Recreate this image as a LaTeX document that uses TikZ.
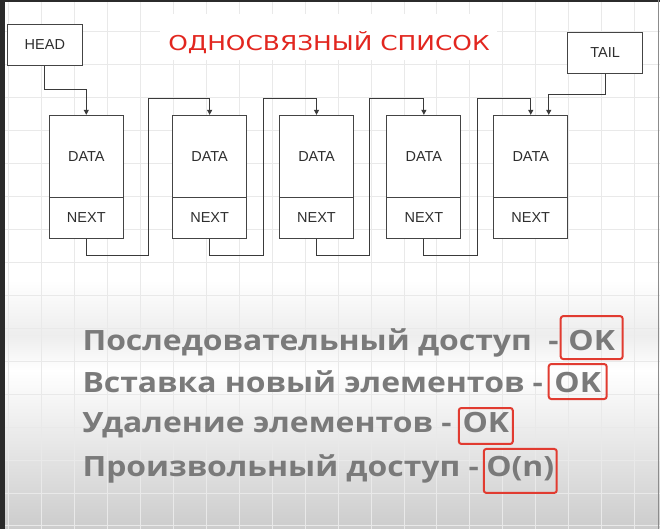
\documentclass[tikz,border=0pt]{standalone}
\usepackage{fontspec}
\usepackage{graphicx}
\setmainfont{Liberation Sans}
\newfontfamily\titlefont{DejaVu Sans}
\newfontfamily\listfont{Open Sans}
\usetikzlibrary{arrows.meta}
\definecolor{boxgray}{HTML}{444444}
\definecolor{linegray}{HTML}{3A3A3A}
\definecolor{textdark}{HTML}{2E2E2E}
\definecolor{titlered}{HTML}{E2261F}
\definecolor{okred}{HTML}{E13B30}
\definecolor{listgray}{HTML}{7A7A7A}
\definecolor{gridc}{HTML}{E9E9E9}
\definecolor{edgedark}{HTML}{2B2B2B}
\newcommand{\wide}[1]{\scalebox{1.14}[1]{#1}}
\begin{document}
\begin{tikzpicture}[x=1pt,y=-1pt,
  cell/.style={draw=boxgray, line width=1pt, fill=white, minimum width=74pt, inner sep=0pt,
    font=\fontsize{14.5}{16}\selectfont, text=textdark},
  datacell/.style={cell, minimum height=82pt},
  nextcell/.style={cell, minimum height=41pt},
  labelbox/.style={cell, minimum width=75pt, minimum height=41pt},
  conn/.style={draw=linegray, line width=1pt, -{Triangle[length=5pt,width=5pt]}},
  listfnt/.style={font=\listfont\bfseries\fontsize{28}{30}\selectfont, text=listgray},
  okbox/.style={listfnt, draw=okred, line width=2pt, rounded corners=2.5pt, inner sep=0pt, anchor=base},
  listline/.style={listfnt, anchor=base west, inner sep=0pt}
]
% background
\fill[white] (0,0) rectangle (660,529);
\shade[top color=white, bottom color=black!20] (0,370) rectangle (660,529);
\shade[top color=white, bottom color=black!7] (0,280) rectangle (660,335);
\shade[top color=black!7, bottom color=white] (0,335) rectangle (660,370);
\foreach \x in {8,41,...,660} \draw[gridc, line width=0.8pt] (\x,0) -- (\x,529);
\foreach \y in {31,64,...,529} \draw[gridc, line width=0.8pt] (0,\y) -- (660,\y);
\fill[white] (160,14) rectangle (497,60);
\fill[edgedark] (0,0) rectangle (5,529);
\fill[edgedark] (0,0) rectangle (660,2);
\draw[black!45, line width=1pt] (658.5,0) -- (658.5,529);

% title
\node[anchor=base, inner sep=0pt, text=titlered] (title) at (329,50)
  {\scalebox{1.215}[1]{\titlefont\fontsize{20.5}{24}\selectfont ОДНОСВЯЗНЫЙ СПИСОК}};

% head / tail
\node[labelbox] (head) at (44.5,44.5) {HEAD};
\node[labelbox] (tail) at (605.5,52.5) {TAIL};

% list cells
\foreach \i/\cx in {1/86,2/209.5,3/316.5,4/424,5/531} {
  \node[datacell] (data\i) at (\cx,156) {DATA};
  \node[nextcell] (next\i) at (\cx,217.5) {NEXT};
}

% connectors
\draw[conn] (head.south) -- ++(0,24) -| (data1.north);
\draw[conn] (next1.south) -- ++(0,17) -| ++(62,-157) -| (data2.north);
\draw[conn] (next2.south) -- ++(0,17) -| ++(53.5,-157) -| (data3.north);
\draw[conn] (next3.south) -- ++(0,17) -| ++(53.5,-157) -| (data4.north);
\draw[conn] (next4.south) -- ++(0,17) -| ++(54,-157) -| (data5.north);
\coordinate (t5) at ([xshift=18pt]data5.north);
\draw[conn] (tail.south) -- ++(0,21) -| (t5);

% list text
\node[listline] (l1) at (82,350) {\wide{Последовательный доступ\ \ -}};
\node[listline] (l2) at (82,392) {\wide{Вставка новый элементов -}};
\node[listline] (l3) at (82,433) {\wide{Удаление элементов -}};
\node[listline] (l4) at (82,477) {\wide{Произвольный доступ -}};

\node[okbox, minimum width=62pt, text height=34pt, text depth=9pt] (ok1) at (592,350) {\wide{OK}};
\node[okbox, minimum width=58pt, text height=28pt, text depth=7pt] (ok2) at (578,392) {\wide{OK}};
\node[okbox, minimum width=54pt, text height=25pt, text depth=11pt] (ok3) at (486,433) {\wide{OK}};
\node[okbox, minimum width=73pt, text height=28pt, text depth=16pt] (ok4) at (520.5,477) {\wide{O(n)}};
\end{tikzpicture}
\end{document}
